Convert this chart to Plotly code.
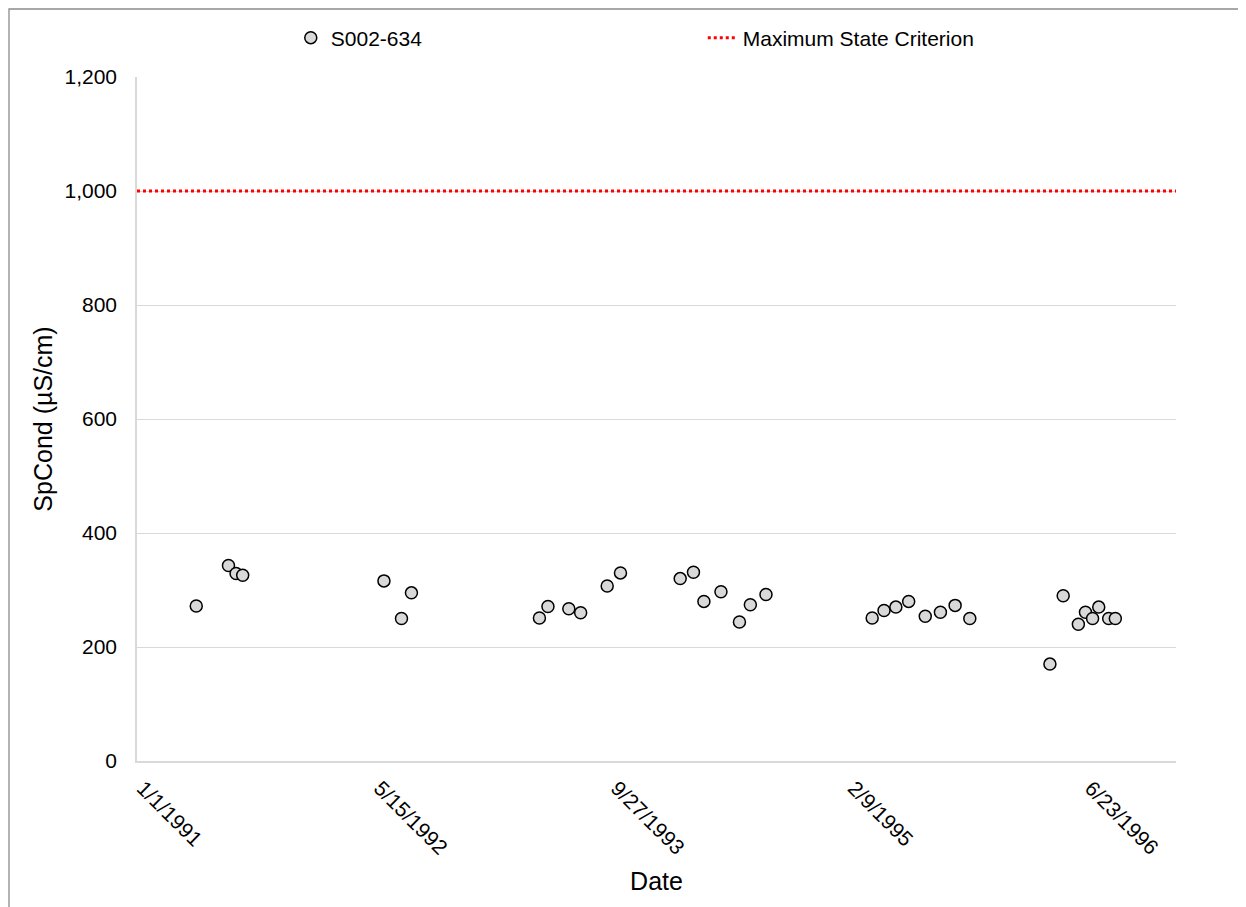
import plotly.graph_objects as go

dates = [
    "1991-05-06", "1991-07-13", "1991-07-29", "1991-08-12",
    "1992-06-05", "1992-07-12", "1992-08-02",
    "1993-04-29", "1993-05-17", "1993-06-30", "1993-07-25", "1993-09-19", "1993-10-17",
    "1994-02-20", "1994-03-20", "1994-04-11", "1994-05-17", "1994-06-25", "1994-07-18", "1994-08-20",
    "1995-04-01", "1995-04-26", "1995-05-21", "1995-06-17", "1995-07-22", "1995-08-23", "1995-09-23", "1995-10-24",
    "1996-04-10", "1996-05-08", "1996-06-09", "1996-06-24", "1996-07-09", "1996-07-22", "1996-08-12", "1996-08-26",
]
spcond = [
    272, 343, 329, 326,
    316, 250, 295,
    251, 271, 267, 260, 307, 330,
    320, 331, 280, 297, 244, 274, 292,
    251, 264, 270, 280, 254, 261, 273, 250,
    170, 290, 240, 261, 250, 270, 250, 250,
]
criterion_x = ["1991-01-01", "1997-01-01"]
criterion_y = [1000, 1000]
tick_vals = ["1991-01-01", "1992-05-15", "1993-09-27", "1995-02-09", "1996-06-23"]
tick_text = ["1/1/1991", "5/15/1992", "9/27/1993", "2/9/1995", "6/23/1996"]

FONT = "Liberation Sans, Arial, sans-serif"
FS = 21

fig = go.Figure()
fig.add_trace(go.Scatter(
    x=dates, y=spcond, mode="markers", name="S002-634",
    marker=dict(symbol="circle", size=12, color="#d9d9d9",
                line=dict(color="black", width=1.5)),
))
fig.add_trace(go.Scatter(
    x=criterion_x, y=criterion_y, mode="lines", name="Maximum State Criterion",
    line=dict(color="#ff0000", width=3, dash="dot"),
))

fig.update_layout(
    width=1238, height=899,
    margin=dict(l=129, r=70, t=69, b=146, autoexpand=False),
    paper_bgcolor="white", plot_bgcolor="white",
    font=dict(family=FONT, size=FS, color="black"),
    showlegend=True,
    legend=dict(orientation="h", x=0.148, y=(761 - 38) / 684, xanchor="left", yanchor="middle",
                entrywidth=367, entrywidthmode="pixels",
                font=dict(size=FS), bgcolor="rgba(0,0,0,0)"),
    xaxis=dict(
        type="date", range=["1991-01-01", "1997-01-01"],
        tickmode="array", tickvals=tick_vals, ticktext=tick_text,
        tickangle=45, showgrid=False, zeroline=False,
        showline=True, linecolor="#d9d9d9", linewidth=1.5,
        ticks="", title=dict(text="Date", standoff=15),
        tickfont=dict(size=FS), ticklabelstandoff=5, ticklabelshift=6,
    ),
    yaxis=dict(
        range=[0, 1200], dtick=200, tickformat=",",
        showgrid=True, gridcolor="#d9d9d9", gridwidth=1.3,
        zeroline=False, showline=True, linecolor="#d9d9d9", linewidth=1.5,
        ticks="", title=dict(text="SpCond (µS/cm)", standoff=5),
        tickfont=dict(size=FS), ticklabelstandoff=14,
    ),
    shapes=[dict(type="rect", xref="paper", yref="paper",
                 x0=(9 - 137) / 1039, x1=(1260 - 137) / 1039,
                 y0=(761 - 920) / 684, y1=(761 - 9) / 684,
                 line=dict(color="#8c8c8c", width=1.3), fillcolor="rgba(0,0,0,0)",
                 layer="below")],
)

fig.write_html("out.html")
